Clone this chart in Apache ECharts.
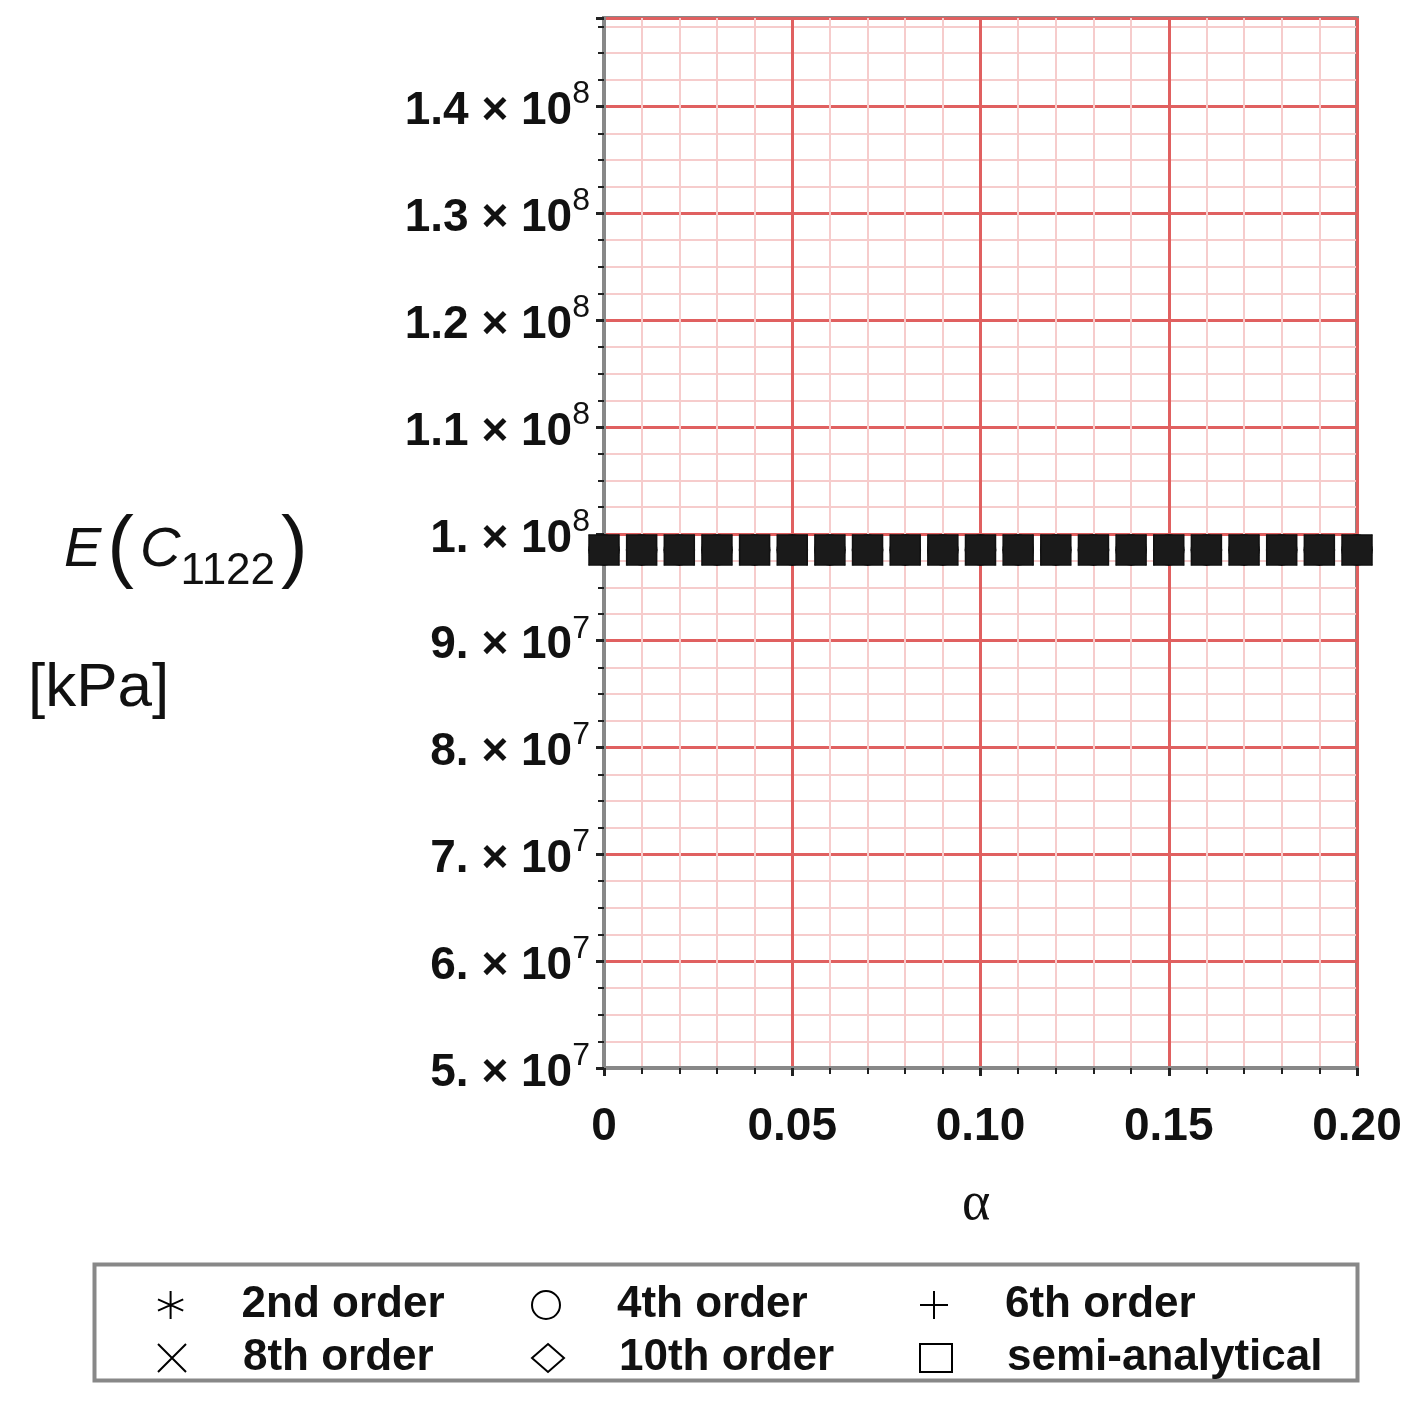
<!DOCTYPE html>
<html>
<head>
<meta charset="utf-8">
<script src="https://cdn.jsdelivr.net/npm/echarts@6/dist/echarts.min.js"></script>
<style>html,body{margin:0;padding:0;background:#fff}#c{width:1423px;height:1402px}</style>
</head>
<body>
<div id="c"></div>
<script>
// alpha values sampled every 0.01
const alphas = [0,0.01,0.02,0.03,0.04,0.05,0.06,0.07,0.08,0.09,0.1,0.11,0.12,0.13,0.14,0.15,0.16,0.17,0.18,0.19,0.2];
const seriesNames = ['2nd order','4th order','6th order','8th order','10th order','semi-analytical'];
const E1122 = 9.85e7; // every order gives the same flat value
const yTicksMantissa = {50000000:'5.',60000000:'6.',70000000:'7.',80000000:'8.',90000000:'9.',100000000:'1.',110000000:'1.1',120000000:'1.2',130000000:'1.3',140000000:'1.4'};

const STAR = 'path://M0,-10L0,10M-9,-4L9,4M-9,4L9,-4M0,-10L0,10';
const PLUS = 'path://M0,-10L0,10M-10,0L10,0';
const CROSS = 'path://M-9,-9L9,9M-9,9L9,-9';
const symbols = [STAR, 'circle', PLUS, CROSS, 'diamond', 'rect'];

var myChart = echarts.init(document.getElementById('c'));

const series = seriesNames.map((name, i) => ({
  name: name,
  type: 'line',
  symbol: symbols[i],
  symbolSize: 30,
  showAllSymbol: true,
  lineStyle: { width: 0 },
  itemStyle: { color: '#1a1a1a', borderColor: '#111', borderWidth: 1.5 },
  data: alphas.map(a => [a, E1122]),
  z: 5
}));

// one legend per entry so they line up in a 3x2 table
const legendPos = [[152,1278],[526,1278],[914,1278],[152,1331],[526,1331],[914,1331]];
const legends = seriesNames.map((name, i) => ({
  left: legendPos[i][0], top: legendPos[i][1],
  itemWidth: 32, itemHeight: 28, itemGap: 0,
  data: [{ name: name, icon: symbols[i], itemStyle: { color: 'transparent', borderColor: '#000', borderWidth: 2 } }],
  textStyle: { fontSize: 44, fontWeight: 'bold', fontFamily: 'Liberation Sans Narrow, Liberation Sans', color: '#111', padding: [0,0,0,50] },
  selectedMode: false
}));

const option = {
  animation: false,
  grid: { left: 604, right: 66, top: 18, bottom: 334, show: true, borderColor: '#888', borderWidth: 4 },
  legend: legends,
  xAxis: {
    type: 'value', min: 0, max: 0.2, interval: 0.05,
    axisLine: { show: true, onZero: false, lineStyle: { color: '#888', width: 4 } },
    axisTick: { show: true, inside: false, length: 8, lineStyle: { color: '#222', width: 3 } },
    minorTick: { show: true, splitNumber: 5, length: 6, lineStyle: { color: '#222', width: 2 } },
    splitLine: { lineStyle: { color: '#e06060', width: 3 } },
    minorSplitLine: { show: true, lineStyle: { color: '#f6cccc', width: 2 } },
    axisLabel: { fontSize: 46, fontWeight: 'bold', color: '#111', fontFamily: 'Liberation Sans', margin: 36,
      formatter: v => v === 0 ? '0' : v.toFixed(2) }
  },
  yAxis: {
    type: 'value', min: 5e7, max: 1.483e8, interval: 1e7,
    axisLine: { show: true, lineStyle: { color: '#888', width: 4 } },
    axisTick: { show: true, length: 8, lineStyle: { color: '#222', width: 3 } },
    minorTick: { show: true, splitNumber: 4, length: 6, lineStyle: { color: '#222', width: 2 } },
    splitLine: { lineStyle: { color: '#e06060', width: 3 } },
    minorSplitLine: { show: true, lineStyle: { color: '#f6cccc', width: 2 } },
    axisLabel: {
      margin: 14,
      formatter: v => {
        const m = yTicksMantissa[Math.round(v)];
        if (!m) return '';
        return '{a|' + m + ' × 10}{e|' + (v >= 1e8 ? '8' : '7') + '}';
      },
      rich: {
        a: { fontSize: 46, fontWeight: 'bold', color: '#111', fontFamily: 'Liberation Sans', verticalAlign: 'bottom' },
        e: { fontSize: 32, color: '#111', fontFamily: 'Liberation Sans', verticalAlign: 'top', padding: [0,0,24,0] }
      }
    }
  },
  graphic: [
    { type: 'rect', left: 92, top: 1262, shape: { width: 1263, height: 116 }, style: { fill: 'none', stroke: '#888', lineWidth: 4 }, z: -1 },
    { type: 'text', left: 962, top: 1178, style: { text: 'α', font: '54px Liberation Serif', fill: '#111' } },
    { type: 'text', left: 28, top: 658, style: { text: '[kPa]', font: '62px Liberation Sans', fill: '#111' } },
    { type: 'text', left: 64, top: 510, style: {
      text: '{i|E}{p|(}{i|C}{s|1122}{p|)}',
      rich: {
        i: { font: 'italic 56px Liberation Sans', fill: '#111' },
        p: { font: '80px DejaVu Sans ExtraLight, Liberation Sans', fill: '#111', padding: [0,6,0,6] },
        s: { font: '44px Liberation Sans', fill: '#111', padding: [44,0,0,0] }
      }
    } }
  ],
  series: series
};
myChart.setOption(option);
</script>
</body>
</html>
